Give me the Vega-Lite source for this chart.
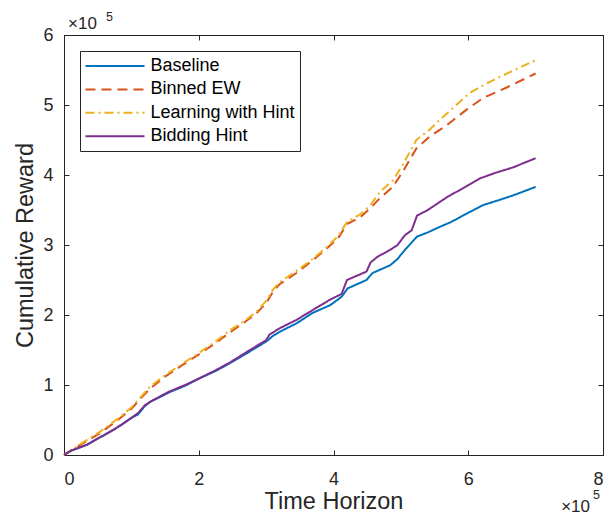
{
  "$schema": "https://vega.github.io/schema/vega-lite/v6.json",
  "width": 539,
  "height": 420,
  "autosize": "none",
  "padding": {"left": 64, "top": 35, "right": 9, "bottom": 66},
  "background": "white",
  "config": {
    "view": {"stroke": "#262626"},
    "font": "Liberation Sans",
    "axis": {
      "grid": false,
      "domainColor": "#262626",
      "tickColor": "#262626",
      "labelColor": "#262626",
      "titleColor": "#262626",
      "labelFont": "Liberation Sans",
      "titleFont": "Liberation Sans",
      "labelFontSize": 18,
      "titleFontSize": 23.5,
      "titleFontWeight": "normal",
      "tickSize": -5,
      "domainWidth": 1
    }
  },
  "datasets": {
    "curves": [
      {"series": "Baseline", "x": 0, "y": 0},
      {"series": "Baseline", "x": 0.1, "y": 0.06},
      {"series": "Baseline", "x": 0.24, "y": 0.11},
      {"series": "Baseline", "x": 0.35, "y": 0.15},
      {"series": "Baseline", "x": 0.53, "y": 0.25},
      {"series": "Baseline", "x": 0.7, "y": 0.34},
      {"series": "Baseline", "x": 0.85, "y": 0.43},
      {"series": "Baseline", "x": 1.0, "y": 0.53},
      {"series": "Baseline", "x": 1.1, "y": 0.58},
      {"series": "Baseline", "x": 1.2, "y": 0.7},
      {"series": "Baseline", "x": 1.28, "y": 0.76},
      {"series": "Baseline", "x": 1.45, "y": 0.84},
      {"series": "Baseline", "x": 1.57, "y": 0.9},
      {"series": "Baseline", "x": 1.8, "y": 0.99},
      {"series": "Baseline", "x": 2.02, "y": 1.1},
      {"series": "Baseline", "x": 2.25, "y": 1.2},
      {"series": "Baseline", "x": 2.46, "y": 1.31},
      {"series": "Baseline", "x": 2.76, "y": 1.48},
      {"series": "Baseline", "x": 3.0, "y": 1.62},
      {"series": "Baseline", "x": 3.1, "y": 1.7},
      {"series": "Baseline", "x": 3.2, "y": 1.76},
      {"series": "Baseline", "x": 3.45, "y": 1.88},
      {"series": "Baseline", "x": 3.69, "y": 2.03},
      {"series": "Baseline", "x": 3.95, "y": 2.14},
      {"series": "Baseline", "x": 4.12, "y": 2.26},
      {"series": "Baseline", "x": 4.21, "y": 2.38},
      {"series": "Baseline", "x": 4.49, "y": 2.5},
      {"series": "Baseline", "x": 4.58, "y": 2.6},
      {"series": "Baseline", "x": 4.84, "y": 2.71},
      {"series": "Baseline", "x": 4.95, "y": 2.8},
      {"series": "Baseline", "x": 5.06, "y": 2.93},
      {"series": "Baseline", "x": 5.24, "y": 3.12},
      {"series": "Baseline", "x": 5.4, "y": 3.18},
      {"series": "Baseline", "x": 5.58, "y": 3.26},
      {"series": "Baseline", "x": 5.75, "y": 3.33},
      {"series": "Baseline", "x": 5.92, "y": 3.42},
      {"series": "Baseline", "x": 6.22, "y": 3.57},
      {"series": "Baseline", "x": 6.45, "y": 3.64},
      {"series": "Baseline", "x": 6.67, "y": 3.71},
      {"series": "Baseline", "x": 7.0, "y": 3.83},

      {"series": "Binned EW", "x": 0, "y": 0},
      {"series": "Binned EW", "x": 0.2, "y": 0.12},
      {"series": "Binned EW", "x": 0.53, "y": 0.31},
      {"series": "Binned EW", "x": 0.8, "y": 0.5},
      {"series": "Binned EW", "x": 1.0, "y": 0.66},
      {"series": "Binned EW", "x": 1.15, "y": 0.82},
      {"series": "Binned EW", "x": 1.28, "y": 0.95},
      {"series": "Binned EW", "x": 1.5, "y": 1.12},
      {"series": "Binned EW", "x": 1.75, "y": 1.28},
      {"series": "Binned EW", "x": 2.02, "y": 1.45},
      {"series": "Binned EW", "x": 2.25, "y": 1.6},
      {"series": "Binned EW", "x": 2.46, "y": 1.75},
      {"series": "Binned EW", "x": 2.7, "y": 1.91},
      {"series": "Binned EW", "x": 2.86, "y": 2.03},
      {"series": "Binned EW", "x": 3.0, "y": 2.17},
      {"series": "Binned EW", "x": 3.1, "y": 2.33},
      {"series": "Binned EW", "x": 3.2, "y": 2.44},
      {"series": "Binned EW", "x": 3.45, "y": 2.6},
      {"series": "Binned EW", "x": 3.69, "y": 2.78},
      {"series": "Binned EW", "x": 3.9, "y": 2.95},
      {"series": "Binned EW", "x": 4.07, "y": 3.1},
      {"series": "Binned EW", "x": 4.2, "y": 3.3},
      {"series": "Binned EW", "x": 4.4, "y": 3.4},
      {"series": "Binned EW", "x": 4.54, "y": 3.52},
      {"series": "Binned EW", "x": 4.69, "y": 3.67},
      {"series": "Binned EW", "x": 4.88, "y": 3.83},
      {"series": "Binned EW", "x": 5.03, "y": 4.05},
      {"series": "Binned EW", "x": 5.23, "y": 4.38},
      {"series": "Binned EW", "x": 5.43, "y": 4.55},
      {"series": "Binned EW", "x": 5.68, "y": 4.71},
      {"series": "Binned EW", "x": 5.97, "y": 4.93},
      {"series": "Binned EW", "x": 6.22, "y": 5.1},
      {"series": "Binned EW", "x": 6.57, "y": 5.25},
      {"series": "Binned EW", "x": 7.0, "y": 5.45},

      {"series": "Learning with Hint", "x": 0, "y": 0},
      {"series": "Learning with Hint", "x": 0.2, "y": 0.13},
      {"series": "Learning with Hint", "x": 0.53, "y": 0.33},
      {"series": "Learning with Hint", "x": 0.8, "y": 0.52},
      {"series": "Learning with Hint", "x": 1.0, "y": 0.68},
      {"series": "Learning with Hint", "x": 1.15, "y": 0.84},
      {"series": "Learning with Hint", "x": 1.28, "y": 0.98},
      {"series": "Learning with Hint", "x": 1.5, "y": 1.14},
      {"series": "Learning with Hint", "x": 1.75, "y": 1.3},
      {"series": "Learning with Hint", "x": 2.02, "y": 1.47},
      {"series": "Learning with Hint", "x": 2.25, "y": 1.62},
      {"series": "Learning with Hint", "x": 2.46, "y": 1.78},
      {"series": "Learning with Hint", "x": 2.7, "y": 1.93},
      {"series": "Learning with Hint", "x": 2.86, "y": 2.05},
      {"series": "Learning with Hint", "x": 3.0, "y": 2.2},
      {"series": "Learning with Hint", "x": 3.1, "y": 2.36},
      {"series": "Learning with Hint", "x": 3.2, "y": 2.47},
      {"series": "Learning with Hint", "x": 3.45, "y": 2.63},
      {"series": "Learning with Hint", "x": 3.69, "y": 2.8},
      {"series": "Learning with Hint", "x": 3.9, "y": 2.97},
      {"series": "Learning with Hint", "x": 4.07, "y": 3.13},
      {"series": "Learning with Hint", "x": 4.2, "y": 3.33},
      {"series": "Learning with Hint", "x": 4.4, "y": 3.44},
      {"series": "Learning with Hint", "x": 4.54, "y": 3.56},
      {"series": "Learning with Hint", "x": 4.69, "y": 3.76},
      {"series": "Learning with Hint", "x": 4.88, "y": 3.92},
      {"series": "Learning with Hint", "x": 5.03, "y": 4.15},
      {"series": "Learning with Hint", "x": 5.23, "y": 4.5},
      {"series": "Learning with Hint", "x": 5.43, "y": 4.65},
      {"series": "Learning with Hint", "x": 5.58, "y": 4.79},
      {"series": "Learning with Hint", "x": 5.8, "y": 4.98},
      {"series": "Learning with Hint", "x": 6.02, "y": 5.17},
      {"series": "Learning with Hint", "x": 6.2, "y": 5.27},
      {"series": "Learning with Hint", "x": 6.42, "y": 5.38},
      {"series": "Learning with Hint", "x": 7.0, "y": 5.64},

      {"series": "Bidding Hint", "x": 0, "y": 0},
      {"series": "Bidding Hint", "x": 0.1, "y": 0.06},
      {"series": "Bidding Hint", "x": 0.24, "y": 0.11},
      {"series": "Bidding Hint", "x": 0.35, "y": 0.15},
      {"series": "Bidding Hint", "x": 0.53, "y": 0.25},
      {"series": "Bidding Hint", "x": 0.7, "y": 0.34},
      {"series": "Bidding Hint", "x": 0.85, "y": 0.43},
      {"series": "Bidding Hint", "x": 1.0, "y": 0.53},
      {"series": "Bidding Hint", "x": 1.1, "y": 0.6},
      {"series": "Bidding Hint", "x": 1.2, "y": 0.71},
      {"series": "Bidding Hint", "x": 1.28, "y": 0.76},
      {"series": "Bidding Hint", "x": 1.45, "y": 0.85},
      {"series": "Bidding Hint", "x": 1.57, "y": 0.91},
      {"series": "Bidding Hint", "x": 1.8, "y": 1.0},
      {"series": "Bidding Hint", "x": 2.02, "y": 1.1},
      {"series": "Bidding Hint", "x": 2.25, "y": 1.21},
      {"series": "Bidding Hint", "x": 2.46, "y": 1.32},
      {"series": "Bidding Hint", "x": 2.76, "y": 1.5},
      {"series": "Bidding Hint", "x": 3.0, "y": 1.64},
      {"series": "Bidding Hint", "x": 3.05, "y": 1.72},
      {"series": "Bidding Hint", "x": 3.2, "y": 1.81},
      {"series": "Bidding Hint", "x": 3.45, "y": 1.93},
      {"series": "Bidding Hint", "x": 3.69, "y": 2.07},
      {"series": "Bidding Hint", "x": 3.95, "y": 2.22},
      {"series": "Bidding Hint", "x": 4.12, "y": 2.3},
      {"series": "Bidding Hint", "x": 4.2, "y": 2.5},
      {"series": "Bidding Hint", "x": 4.49, "y": 2.62},
      {"series": "Bidding Hint", "x": 4.55, "y": 2.75},
      {"series": "Bidding Hint", "x": 4.65, "y": 2.83},
      {"series": "Bidding Hint", "x": 4.84, "y": 2.93},
      {"series": "Bidding Hint", "x": 4.95, "y": 3.0},
      {"series": "Bidding Hint", "x": 5.06, "y": 3.14},
      {"series": "Bidding Hint", "x": 5.16, "y": 3.21},
      {"series": "Bidding Hint", "x": 5.24, "y": 3.42},
      {"series": "Bidding Hint", "x": 5.4, "y": 3.5},
      {"series": "Bidding Hint", "x": 5.68, "y": 3.68},
      {"series": "Bidding Hint", "x": 5.9, "y": 3.8},
      {"series": "Bidding Hint", "x": 6.17, "y": 3.95},
      {"series": "Bidding Hint", "x": 6.4, "y": 4.03},
      {"series": "Bidding Hint", "x": 6.67, "y": 4.11},
      {"series": "Bidding Hint", "x": 7.0, "y": 4.24}
    ],
    "exponent": [
      {"x": 0, "y": 6, "base": "×10", "sup": "5"}
    ],
    "exponentx": [
      {"x": 8, "y": 0, "base": "×10", "sup": "5"}
    ]
  },
  "layer": [
    {
      "data": {"name": "curves"},
      "mark": {"type": "line", "strokeWidth": 2, "interpolate": "linear"},
      "encoding": {
        "x": {
          "field": "x", "type": "quantitative",
          "scale": {"domain": [0, 8], "nice": false},
          "axis": {"values": [0, 2, 4, 6, 8], "title": "Time Horizon", "labelPadding": 20, "titlePadding": 1}
        },
        "y": {
          "field": "y", "type": "quantitative",
          "scale": {"domain": [0, 6], "nice": false},
          "axis": {"values": [0, 1, 2, 3, 4, 5, 6], "title": "Cumulative Reward", "labelPadding": 16, "titlePadding": 5}
        },
        "color": {
          "field": "series", "type": "nominal",
          "scale": {
            "domain": ["Baseline", "Binned EW", "Learning with Hint", "Bidding Hint"],
            "range": ["#0072BD", "#D95319", "#EDB120", "#7E2F8E"]
          },
          "legend": {
            "title": null,
            "orient": "top-left",
            "offset": 16,
            "symbolType": "M-3.28,0H3.28",
            "symbolSize": 324,
            "symbolOffset": 20,
            "symbolStrokeWidth": 2,
            "labelFontSize": 18,
            "labelFont": "Liberation Sans",
            "labelColor": "#000000",
            "strokeColor": "#262626",
            "fillColor": "white",
            "padding": 5,
            "rowPadding": 4.4,
            "labelOffset": 25.5,
            "cornerRadius": 0
          }
        },
        "strokeDash": {
          "field": "series", "type": "nominal",
          "scale": {
            "domain": ["Baseline", "Binned EW", "Learning with Hint", "Bidding Hint"],
            "range": [[1, 0], [10, 6], [9, 4, 2, 4], [1, 0]]
          },
          "legend": {
            "title": null,
            "orient": "top-left",
            "offset": 16,
            "symbolType": "M-3.28,0H3.28",
            "symbolSize": 324,
            "symbolOffset": 20,
            "symbolStrokeWidth": 2,
            "labelFontSize": 18,
            "labelFont": "Liberation Sans",
            "labelColor": "#000000",
            "strokeColor": "#262626",
            "fillColor": "white",
            "padding": 5,
            "rowPadding": 4.4,
            "labelOffset": 25.5,
            "cornerRadius": 0
          }
        },
        "order": {"field": "series"}
      }
    },
    {
      "data": {"name": "exponent"},
      "mark": {"type": "text", "align": "left", "baseline": "alphabetic", "fontSize": 17, "dx": 4, "dy": -6, "color": "#262626", "font": "Liberation Sans"},
      "encoding": {
        "x": {
          "field": "x", "type": "quantitative",
          "axis": {"orient": "top", "values": [0, 2, 4, 6, 8], "labels": false, "title": null}
        },
        "y": {
          "field": "y", "type": "quantitative",
          "axis": {"orient": "right", "values": [0, 1, 2, 3, 4, 5, 6], "labels": false, "title": null}
        },
        "text": {"field": "base"}
      }
    },
    {
      "data": {"name": "exponent"},
      "mark": {"type": "text", "align": "left", "baseline": "alphabetic", "fontSize": 12.5, "dx": 42, "dy": -14, "color": "#262626", "font": "Liberation Sans"},
      "encoding": {
        "x": {"field": "x", "type": "quantitative", "axis": null},
        "y": {"field": "y", "type": "quantitative", "axis": null},
        "text": {"field": "sup"}
      }
    },
    {
      "data": {"name": "exponentx"},
      "mark": {"type": "text", "align": "right", "baseline": "alphabetic", "fontSize": 17, "dx": -13, "dy": 57, "color": "#262626", "font": "Liberation Sans"},
      "encoding": {
        "x": {"field": "x", "type": "quantitative", "axis": null},
        "y": {"field": "y", "type": "quantitative", "axis": null},
        "text": {"field": "base"}
      }
    },
    {
      "data": {"name": "exponentx"},
      "mark": {"type": "text", "align": "right", "baseline": "alphabetic", "fontSize": 12.5, "dx": -3, "dy": 44, "color": "#262626", "font": "Liberation Sans"},
      "encoding": {
        "x": {"field": "x", "type": "quantitative", "axis": null},
        "y": {"field": "y", "type": "quantitative", "axis": null},
        "text": {"field": "sup"}
      }
    }
  ],
  "resolve": {"axis": {"x": "independent", "y": "independent"}}
}
